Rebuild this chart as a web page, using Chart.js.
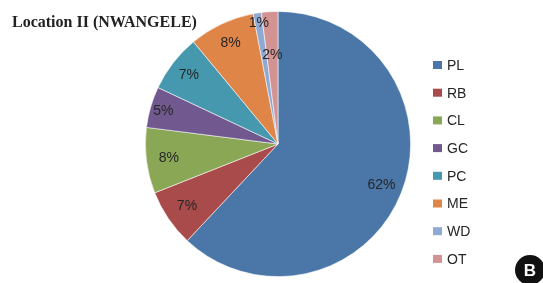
<!DOCTYPE html>
<html><head><meta charset="utf-8">
<script src="https://cdn.jsdelivr.net/npm/chart.js@4/dist/chart.umd.min.js"></script>
<style>html,body{margin:0;padding:0;background:#fff;}#wrap{width:543px;height:283px;position:relative;}</style>
</head><body><div id="wrap"><canvas id="c" width="543" height="283"></canvas></div>
<script>
const categories = ["PL","RB","CL","GC","PC","ME","WD","OT"];
const shares = [62,7,8,5,7,8,1,2];
const colors = ["#4a76a8","#a94b4b","#8aa755","#71598f","#4698ae","#df8548","#8ea9d2","#d39393"];
const labelRadiusFrac = [0.84,0.83,0.83,0.9,0.85,0.84,0.92,0.67];
const titleText = "Location II (NWANGELE)";

const overlay = {
  id:'overlay',
  afterDatasetsDraw(chart){
    const ctx = chart.ctx;
    const meta = chart.getDatasetMeta(0);
    ctx.save();
    ctx.font = '14px "Liberation Sans", Arial, sans-serif';
    ctx.fillStyle = '#262626';
    ctx.textAlign='center'; ctx.textBaseline='middle';
    meta.data.forEach((arc,i)=>{
      const p = arc.getProps(['x','y','startAngle','endAngle','outerRadius'],true);
      const a = (p.startAngle+p.endAngle)/2;
      const r = p.outerRadius*labelRadiusFrac[i];
      ctx.fillText(shares[i]+'%', p.x+Math.cos(a)*r, p.y+Math.sin(a)*r);
    });
    // legend
    ctx.textAlign='left';
    ctx.font = '14px "Liberation Sans", Arial, sans-serif';
    categories.forEach((c,i)=>{
      const y = 65 + i*27.7;
      ctx.fillStyle = colors[i];
      ctx.fillRect(433, y-4, 9, 8);
      ctx.fillStyle = '#262626';
      ctx.fillText(c, 447, y+1);
    });
    // title
    ctx.font = 'bold 16px "Liberation Serif", "Times New Roman", serif';
    ctx.fillStyle = '#222';
    ctx.textBaseline='alphabetic';
    ctx.fillText(titleText, 12, 27);
    // badge
    ctx.beginPath(); ctx.arc(530,270,15,0,Math.PI*2); ctx.fillStyle='#111'; ctx.fill();
    ctx.fillStyle='#fff'; ctx.font='bold 17px "Liberation Sans", Arial, sans-serif';
    ctx.textAlign='center'; ctx.textBaseline='middle';
    ctx.fillText('B',530,271);
    ctx.restore();
  }
};

new Chart(document.getElementById('c'),{
  type:'pie',
  data:{labels:categories,datasets:[{data:shares,backgroundColor:colors,borderColor:'rgba(255,255,255,0.7)',borderWidth:0.8}]},
  options:{
    responsive:false,animation:false,
    layout:{padding:{left:145,right:132,top:11,bottom:6}},
    plugins:{legend:{display:false},tooltip:{enabled:false}}
  },
  plugins:[overlay]
});
</script></body></html>
